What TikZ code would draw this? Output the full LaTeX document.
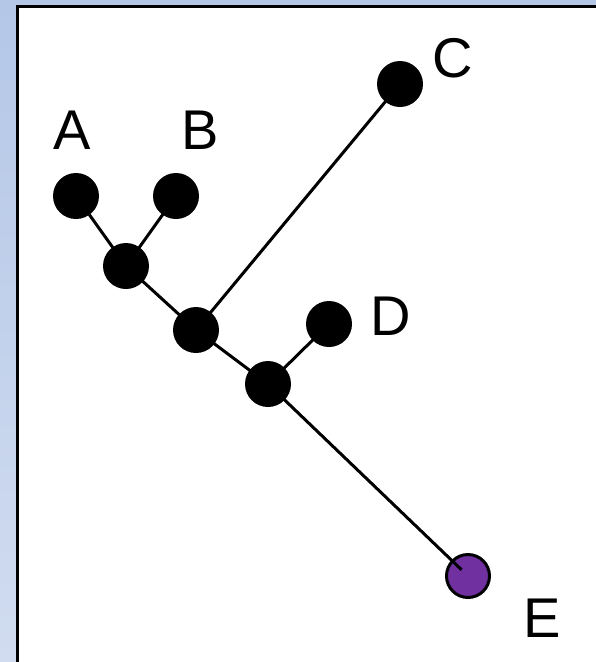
\documentclass[tikz,border=0pt]{standalone}
\usepackage{fontspec}
\setmainfont{Liberation Sans}
\usetikzlibrary{calc}
\definecolor{slideblueA}{HTML}{B4C7E7}
\definecolor{slideblueB}{HTML}{D1DCF0}
\definecolor{leafpurple}{HTML}{7030A0}

\begin{document}
\begin{tikzpicture}[x=1pt,y=-1pt,
      tn/.style={circle,fill=black,minimum size=46pt,inner sep=0pt},
      br/.style={black,line width=3pt},
      lb/.style={inner sep=0pt,font=\fontsize{56}{60}\selectfont}]
    \useasboundingbox (0,0) rectangle (596,662);
    \shade[top color=slideblueA,bottom color=slideblueB] (0,0) rectangle (596,662);
    \fill[white] (19,8) rectangle (596,662);
    \draw[black,line width=3pt] (17.5,662) -- (17.5,6.5) -- (596,6.5);
    \coordinate (A) at (76,196);
    \coordinate (B) at (176,196);
    \coordinate (AB) at (126,266);
    \coordinate (ABC) at (196,330);
    \coordinate (C) at (400,84);
    \coordinate (D) at (329,324);
    \coordinate (ABCD) at (268,384);
    \coordinate (E) at (468,576);
    \draw[br] (A)--(AB)--(ABC)--(ABCD);
    \draw[br] (B)--(AB); \draw[br] (C)--(ABC); \draw[br] (D)--(ABCD);
    \node[tn] (nA) at (A) {};
    \node[tn] (nB) at (B) {};
    \node[tn] (nAB) at (AB) {};
    \node[tn] (nABC) at (ABC) {};
    \node[tn] (nC) at (C) {};
    \node[tn] (nD) at (D) {};
    \node[tn] (nABCD) at (ABCD) {};
    \node[circle,fill=leafpurple,draw=black,line width=3pt,minimum size=43pt,inner sep=0pt] (nE) at (E) {};
    \draw[br,shorten >=9pt] (nABCD.center)--(nE.center);
    \node[lb] (lA) at (72,130) {A};
    \node[lb] (lB) at (200,130) {B};
    \node[lb] (lC) at (453,58) {C};
    \node[lb] (lD) at (391,316) {D};
    \node[lb] (lE) at (542,618) {E};
  \end{tikzpicture}
\end{document}
